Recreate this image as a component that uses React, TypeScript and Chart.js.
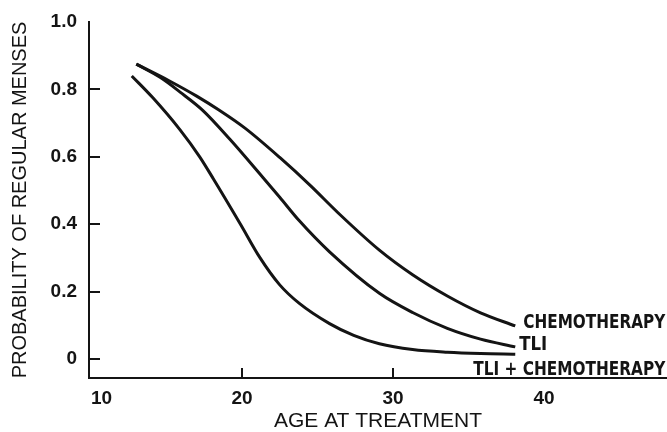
import { useEffect, useRef } from 'react';
import { Chart, registerables } from 'chart.js';

Chart.register(...registerables);

// ---- data ----
const seriesNames = ['CHEMOTHERAPY', 'TLI', 'TLI + CHEMOTHERAPY'];

const chemoAges = [13.0, 15.2, 17.0, 18.5, 20.2, 22.5, 24.5, 26.5, 29.1, 31.3, 33.6, 35.8, 38.1];
const chemoProb = [0.875, 0.825, 0.78, 0.738, 0.685, 0.598, 0.516, 0.428, 0.323, 0.25, 0.187, 0.137, 0.098];

const tliAges = [13.0, 14.6, 15.9, 17.4, 19.2, 21.4, 22.5, 23.8, 25.8, 29.1, 31.3, 33.6, 35.8, 38.1];
const tliProb = [0.875, 0.835, 0.792, 0.738, 0.652, 0.538, 0.48, 0.41, 0.318, 0.195, 0.138, 0.091, 0.059, 0.036];

const comboAges = [12.7, 14.1, 15.9, 17.2, 18.1, 19.9, 21.2, 22.5, 23.8, 25.8, 27.4, 29.1, 31.3, 33.6, 35.8, 38.1];
const comboProb = [0.84, 0.775, 0.68, 0.6, 0.535, 0.4, 0.3, 0.22, 0.165, 0.105, 0.07, 0.045, 0.028, 0.02, 0.016, 0.014];

const xTickValues = [10, 20, 30, 40];
const xTickMarks = [20, 30];
const yTickValues = [0, 0.2, 0.4, 0.6, 0.8, 1.0];
const yTickMarks = [0, 0.2, 0.4, 0.6, 0.8];

const xAxisTitle = 'AGE AT TREATMENT';
const yAxisTitle = 'PROBABILITY OF REGULAR MENSES';

// ---- styling ----
const ink = '#141414';
const family = '"Liberation Sans", Arial, Helvetica, sans-serif';
const labelFont = 'bold 19px "Liberation Sans Narrow", "DejaVu Sans Condensed", "Liberation Sans", Arial, sans-serif';
// per-series end label placement (offset from the curve end, target width)
const labelStyles = [
  { dx: 8, dy: 2, width: 142 },
  { dx: 4, dy: 3, width: 28 },
  { dx: -42, dy: 21, width: 192 },
];

const toPoints = (xs: number[], ys: number[]) => xs.map((x, i) => ({ x, y: ys[i] }));

const marksPlugin = {
  id: 'marksAndLabels',
  afterDatasetsDraw(chart: any) {
    const { ctx, scales } = chart;
    const x = scales.x;
    const y = scales.y;
    ctx.save();
    ctx.strokeStyle = ink;
    ctx.lineWidth = 2;
    yTickMarks.forEach((v) => {
      const py = Math.round(y.getPixelForValue(v));
      ctx.beginPath();
      ctx.moveTo(x.left, py);
      ctx.lineTo(x.left + 11, py);
      ctx.stroke();
    });
    xTickMarks.forEach((v) => {
      const px = Math.round(x.getPixelForValue(v));
      ctx.beginPath();
      ctx.moveTo(px, y.bottom);
      ctx.lineTo(px, y.bottom - 10);
      ctx.stroke();
    });
    ctx.fillStyle = ink;
    ctx.font = labelFont;
    ctx.textAlign = 'left';
    ctx.textBaseline = 'alphabetic';
    chart.data.datasets.forEach((ds: any, i: number) => {
      const last = ds.data[ds.data.length - 1];
      const px = x.getPixelForValue(last.x);
      const py = y.getPixelForValue(last.y);
      const st = labelStyles[i];
      const w = ctx.measureText(ds.label).width;
      ctx.save();
      ctx.translate(px + st.dx, py + st.dy);
      ctx.scale(st.width / w, 1);
      ctx.fillText(ds.label, 0, 0);
      ctx.restore();
    });
    ctx.restore();
  },
};

export default function App() {
  const canvasRef = useRef<HTMLCanvasElement | null>(null);

  useEffect(() => {
    if (!canvasRef.current) return;
    const lineStyle = {
      borderColor: ink,
      borderWidth: 3,
      pointRadius: 0,
      fill: false,
      cubicInterpolationMode: 'monotone' as const,
    };
    const chart = new Chart(canvasRef.current, {
      type: 'line',
      data: {
        datasets: [
          { label: seriesNames[0], data: toPoints(chemoAges, chemoProb), ...lineStyle },
          { label: seriesNames[1], data: toPoints(tliAges, tliProb), ...lineStyle },
          { label: seriesNames[2], data: toPoints(comboAges, comboProb), ...lineStyle },
        ],
      },
      options: {
        animation: false,
        responsive: false,
        devicePixelRatio: 1,
        layout: { padding: { top: 22, left: 0, right: 0, bottom: 0 } },
        plugins: {
          legend: { display: false },
          tooltip: { enabled: false },
        },
        scales: {
          x: {
            type: 'linear',
            min: 9.868,
            max: 48.15,
            afterBuildTicks: (s: any) => {
              s.ticks = [...xTickValues, s.max].map((value) => ({ value }));
            },
            afterFit: (s: any) => {
              s.height = 54;
            },
            ticks: {
              autoSkip: false,
              maxRotation: 0,
              align: 'inner',
              padding: 0,
              color: ink,
              font: { family, size: 19, weight: 'bold', lineHeight: 2.2 },
              callback: (v: any) => (xTickValues.includes(Number(v)) ? String(v) : ''),
            },
            grid: { display: false, drawTicks: false },
            border: { display: true, color: ink, width: 2 },
            title: {
              display: true,
              text: xAxisTitle,
              color: ink,
              font: { family, size: 21, lineHeight: 1 },
              padding: { top: 0, bottom: 0 },
            },
          },
          y: {
            type: 'linear',
            min: -0.0564,
            max: 1.0,
            afterBuildTicks: (s: any) => {
              s.ticks = yTickValues.map((value) => ({ value }));
            },
            afterFit: (s: any) => {
              s.width = 89;
            },
            ticks: {
              padding: 12,
              color: ink,
              font: { family, size: 19, weight: 'bold', lineHeight: 1 },
              callback: (v: any) => (Number(v) === 0 ? '0' : Number(v).toFixed(1)),
            },
            grid: { display: false, drawTicks: false },
            border: { display: true, color: ink, width: 2 },
            title: {
              display: true,
              text: yAxisTitle,
              color: ink,
              font: { family, size: 20, lineHeight: 1 },
              padding: { top: 10, bottom: 0 },
            },
          },
        },
      } as any,
      plugins: [marksPlugin],
    });
    return () => chart.destroy();
  }, []);

  return (
    <div style={{ position: 'fixed', left: 0, top: 0, width: 667, height: 432, background: '#fff' }}>
      <canvas ref={canvasRef} width={667} height={432} style={{ display: 'block' }} />
    </div>
  );
}
